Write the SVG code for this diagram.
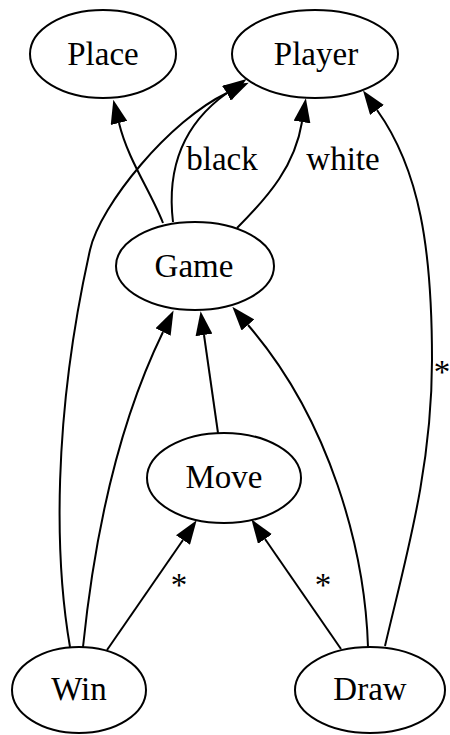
<svg xmlns="http://www.w3.org/2000/svg" width="450" height="735" viewBox="0 0 450 735">
<defs>
<marker id="arr" viewBox="0 0 24 17" refX="0" refY="8.5" markerWidth="24" markerHeight="17" markerUnits="userSpaceOnUse" orient="auto">
<path d="M0,0 L24,8.5 L0,17 z" fill="#000"/>
</marker>
<style>
.n ellipse{fill:#fff;stroke:#000;stroke-width:2}
text{font-family:"Liberation Serif","Times New Roman",serif;font-size:33px;fill:#000;text-anchor:middle}
.e path{fill:none;stroke:#000;stroke-width:2;marker-end:url(#arr)}
</style>
</defs>
<rect width="450" height="735" fill="#fff"/>
<g id="edges" class="e">
<path d="M163,223 C150,190 128,160 119,123"/>
<path d="M70,647 C55,560 52,420 90,250 C100,205 170,120 227,93"/>
<path d="M173,222 C168,180 175,130 227,93"/>
<path d="M237,228 C270,195 295,165 302,122"/>
<path d="M385,646 C405,560 432,470 432,360 C432,250 420,170 377,110"/>
<path d="M83,647 C95,530 120,420 163,332"/>
<path d="M218,433 L204,335"/>
<path d="M368,647 C365,550 330,420 248,325"/>
<path d="M107,650 L183,540"/>
<path d="M341,649 L265,539"/>
<text x="222" y="170">black</text>
<text x="343" y="170">white</text>
<text x="179" y="596">*</text>
<text x="323" y="596">*</text>
<text x="442" y="383">*</text>
</g>
<g id="Place" class="n"><ellipse cx="103" cy="54" rx="73" ry="44"/><text x="103" y="65">Place</text></g>
<g id="Player" class="n"><ellipse cx="315" cy="54" rx="83" ry="44"/><text x="316" y="65">Player</text></g>
<g id="Game" class="n"><ellipse cx="195" cy="266" rx="79" ry="44"/><text x="194" y="277">Game</text></g>
<g id="Move" class="n"><ellipse cx="224" cy="478" rx="77" ry="45"/><text x="224" y="488">Move</text></g>
<g id="Win" class="n"><ellipse cx="79" cy="690" rx="67" ry="43"/><text x="79" y="700">Win</text></g>
<g id="Draw" class="n"><ellipse cx="370" cy="690" rx="75" ry="43"/><text x="370" y="700">Draw</text></g>
</svg>
